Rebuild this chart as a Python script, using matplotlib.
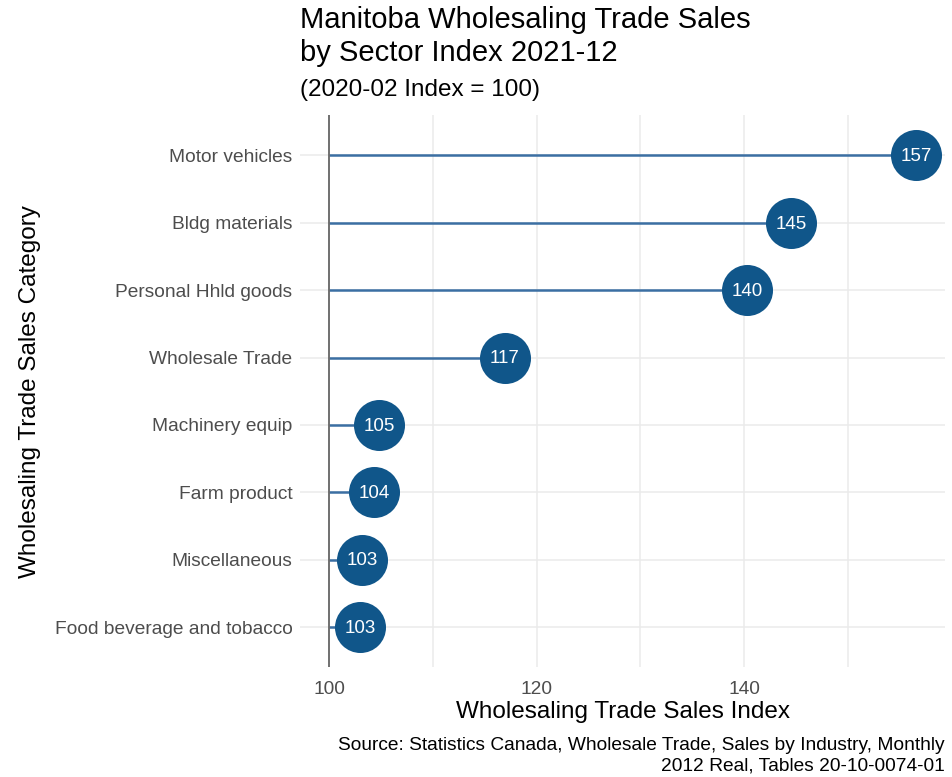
#!/usr/bin/env python3
"""Lollipop chart of Manitoba wholesaling trade sales index by sector."""

import matplotlib

matplotlib.use("Agg")

import matplotlib.pyplot as plt
from matplotlib.ticker import MultipleLocator

plt.rcParams["font.family"] = ["Liberation Sans", "DejaVu Sans"]

categories = [
    "Food beverage and tobacco",
    "Miscellaneous",
    "Farm product",
    "Machinery equip",
    "Wholesale Trade",
    "Personal Hhld goods",
    "Bldg materials",
    "Motor vehicles",
]
index_values = [103.0, 103.2, 104.3, 104.8, 116.9, 140.3, 144.5, 156.6]
value_labels = ["103", "103", "104", "105", "117", "140", "145", "157"]
baseline = 100

fig = plt.figure(figsize=(9.53, 7.77), dpi=100)
ax = fig.add_axes([0.315, 0.141, 0.677, 0.711])

ypos = list(range(len(categories)))
ax.hlines(ypos, baseline, index_values, color="#3b6fa3", linewidth=1.8, zorder=2)
ax.axvline(baseline, color="#666666", linewidth=1.3, zorder=3)
ax.scatter(index_values, ypos, s=1350, color="#10568a", zorder=4, linewidths=0)
for x, y, lab in zip(index_values, ypos, value_labels):
    ax.text(x, y - 0.02, lab, color="white", fontsize=13.5, ha="center", va="center", zorder=5)

ax.set_xlim(97.2, 159.4)
ax.set_ylim(-0.6, len(categories) - 0.4)
ax.set_yticks(ypos)
ax.set_yticklabels(categories)
ax.xaxis.set_major_locator(MultipleLocator(20))
ax.xaxis.set_minor_locator(MultipleLocator(10))
ax.grid(True, which="major", color="#ebebeb", linewidth=1.1)
ax.grid(True, which="minor", axis="x", color="#ebebeb", linewidth=1.1)
ax.set_axisbelow(True)
for side in ax.spines.values():
    side.set_visible(False)
ax.tick_params(which="both", length=0, labelsize=13.8, labelcolor="#4d4d4d")
ax.tick_params(axis="y", pad=5.5)
ax.tick_params(axis="x", pad=10)

ax.set_xlabel("Wholesaling Trade Sales Index", fontsize=17.5, labelpad=2)
ax.set_ylabel("Wholesaling Trade Sales Category", fontsize=17.5, labelpad=10)

fig.text(300 / 953, 1 - 6 / 777, "Manitoba Wholesaling Trade Sales\nby Sector Index 2021-12",
         fontsize=21, ha="left", va="top", linespacing=1.22)
fig.text(300 / 953, 1 - 79 / 777, "(2020-02 Index = 100)", fontsize=17.5, ha="left", va="top")
fig.text(945 / 953, 1 - 737 / 777,
         "Source: Statistics Canada, Wholesale Trade, Sales by Industry, Monthly\n"
         "2012 Real, Tables 20-10-0074-01",
         fontsize=13.8, ha="right", va="top", linespacing=1.25)

fig.savefig("out.png", dpi=100)
